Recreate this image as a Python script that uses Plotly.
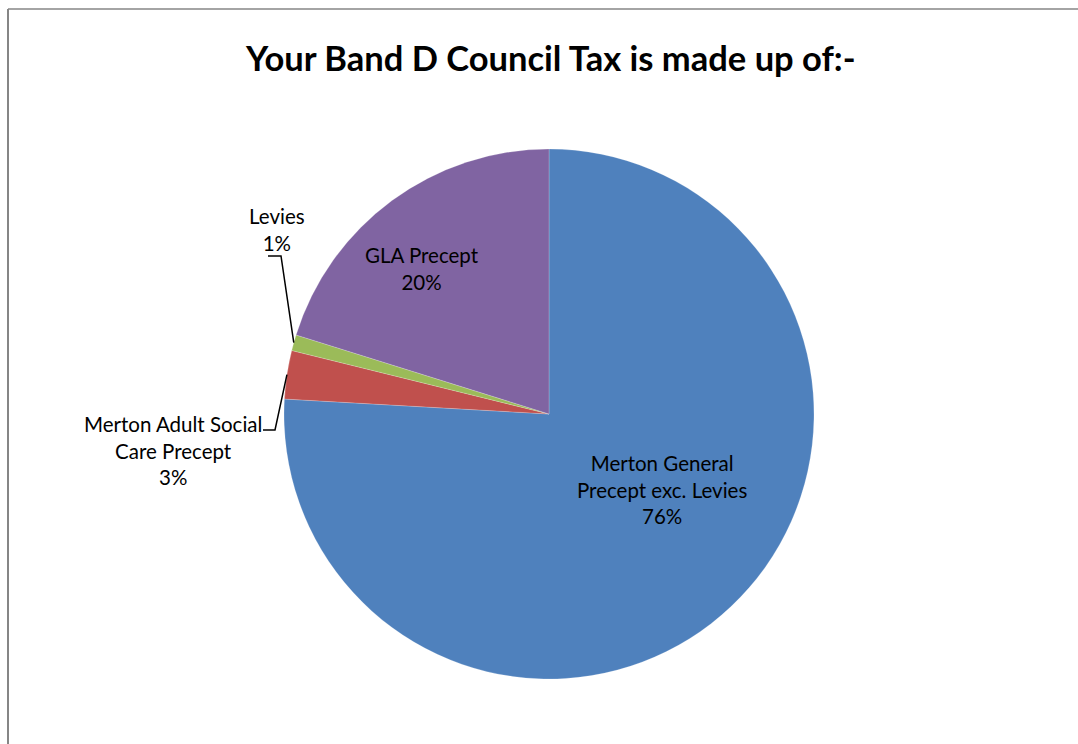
import math
import plotly.graph_objects as go

W, H = 1078, 744

# Data
categories = ["Merton General<br>Precept exc. Levies", "Merton Adult Social<br>Care Precept", "Levies", "GLA Precept"]
values = [75.9, 2.95, 0.97, 20.18]
colors = ["#4F81BD", "#C0504D", "#9BBB59", "#8064A2"]
title_text = "Your Band D Council Tax is made up of:-"

# Layout geometry (pixels)
CX, CY, R = 549, 414, 265
FONT = "Lato, 'Open Sans', sans-serif"

def px(x):
    return x / W

def py(y):
    return 1 - y / H

fig = go.Figure(go.Pie(
    labels=categories,
    values=values,
    marker=dict(colors=colors, line=dict(color="rgba(255,255,255,0.4)", width=0.5)),
    sort=False,
    direction="clockwise",
    rotation=0,
    textinfo="none",
    hoverinfo="label+percent",
    showlegend=False,
    domain=dict(x=[px(CX - R), px(CX + R)], y=[py(CY + R), py(CY - R)]),
))

total = sum(values)
pct = [f"{round(v / total * 100)}%" for v in values]

# label positions (pixels)
label_pos = [(662, 489), (173, 450), (277, 229), (422, 268)]
annotations = []
for i, (lx, ly) in enumerate(label_pos):
    annotations.append(dict(
        x=px(lx), y=py(ly), xref="paper", yref="paper",
        text=f"{categories[i]}<br>{pct[i]}", showarrow=False,
        font=dict(family=FONT, size=20.5, color="#000"),
        align="center", xanchor="center", yanchor="middle",
    ))

annotations.append(dict(
    x=px(550), y=py(57), xref="paper", yref="paper",
    text=f"<b>{title_text}</b>", showarrow=False,
    font=dict(family=FONT, size=34.5, color="#000"),
    xanchor="center", yanchor="middle",
))

# leader lines from mid-angle of small slices to labels
cum = 0
mids = []
for v in values:
    mids.append((cum + v / 2) / total * 2 * math.pi)
    cum += v

def edge_point(angle, r):
    return CX + r * math.sin(angle), CY - r * math.cos(angle)

shapes = []
leader = {1: [(263, 430), (275, 430)], 2: [(268, 256), (281, 256)]}
for i, pts in leader.items():
    ex, ey = edge_point(mids[i], R)
    path_pts = pts + [(ex, ey)]
    path = "M " + " L ".join(f"{px(x)},{py(y)}" for x, y in path_pts)
    shapes.append(dict(type="path", path=path, xref="paper", yref="paper",
                       line=dict(color="#000", width=1.5)))

# chart border
shapes.append(dict(type="line", xref="paper", yref="paper",
                   x0=px(8), x1=px(8), y0=py(9), y1=py(H + 5),
                   line=dict(color="#868686", width=2)))
shapes.append(dict(type="line", xref="paper", yref="paper",
                   x0=px(8), x1=px(W + 5), y0=py(9), y1=py(9),
                   line=dict(color="#868686", width=1.5)))

fig.update_layout(
    width=W, height=H,
    margin=dict(l=0, r=0, t=0, b=0),
    paper_bgcolor="white", plot_bgcolor="white",
    annotations=annotations, shapes=shapes,
)

fig.write_html("out.html", config={"displayModeBar": False})
